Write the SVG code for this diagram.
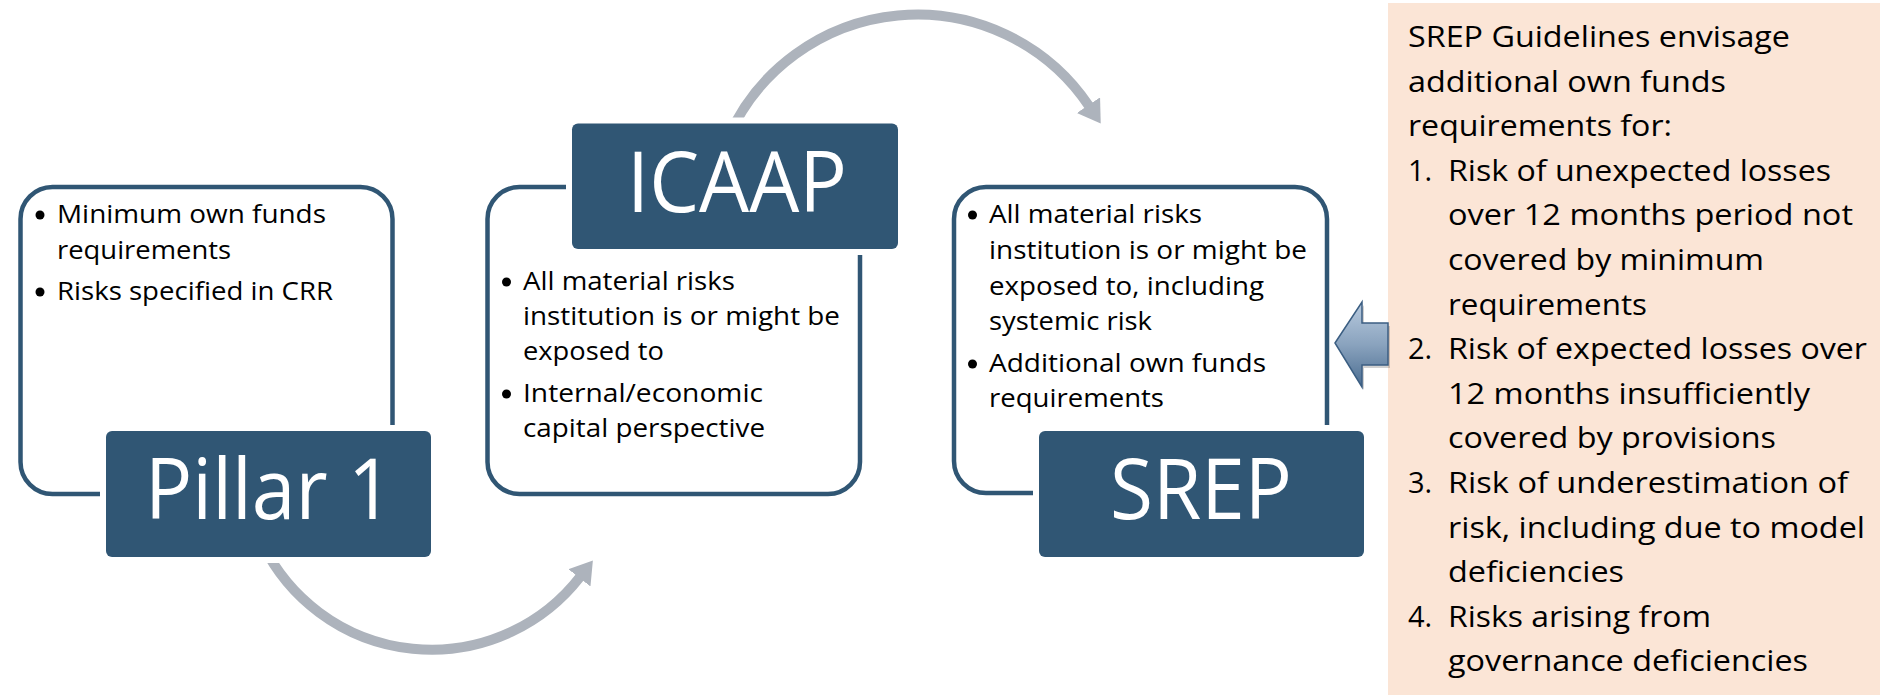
<svg xmlns="http://www.w3.org/2000/svg" width="1880" height="697" viewBox="0 0 1880 697">
  <style>
    .outline { fill: #ffffff; stroke: #305674; stroke-width: 4.5; }
    .gap { fill: #ffffff; }
    .dark { fill: #305674; }
    .label { font-family: "Open Sans", "Noto Sans", sans-serif; font-size: 84px; fill: #ffffff; text-anchor: middle; }
    .bul { font-family: "Open Sans", "Noto Sans", sans-serif; font-size: 26px; fill: #000000; }
    .pan { font-family: "Open Sans", "Noto Sans", sans-serif; font-size: 29px; fill: #000000; }
    .dot { fill: #000000; }
    .arc { fill: none; stroke: #adb3bc; stroke-width: 10; }
  </style>
  <defs>
    <marker id="head" markerUnits="userSpaceOnUse" markerWidth="26" markerHeight="30" refX="1" refY="14" orient="auto">
      <path d="M0,0 L22,14 L0,28 Z" fill="#adb3bc"/>
    </marker>
    <linearGradient id="blueGrad" x1="0" y1="0" x2="0" y2="1">
      <stop offset="0" stop-color="#b9cbdf"/>
      <stop offset="0.5" stop-color="#8aa3be"/>
      <stop offset="1" stop-color="#4a6c90"/>
    </linearGradient>
  </defs>

  <!-- right panel -->
  <g id="panel">
    <rect x="1388" y="3" width="492" height="692" fill="#fbe5d6"/>
    <text class="pan" x="1408" y="47" textLength="382" lengthAdjust="spacingAndGlyphs">SREP Guidelines envisage</text>
    <text class="pan" x="1408" y="91.6" textLength="318" lengthAdjust="spacingAndGlyphs">additional own funds</text>
    <text class="pan" x="1408" y="136.2" textLength="264" lengthAdjust="spacingAndGlyphs">requirements for:</text>
    <text class="pan" x="1408" y="180.8">1.</text>
    <text class="pan" x="1448" y="180.8" textLength="383" lengthAdjust="spacingAndGlyphs">Risk of unexpected losses</text>
    <text class="pan" x="1448" y="225.4" textLength="405" lengthAdjust="spacingAndGlyphs">over 12 months period not</text>
    <text class="pan" x="1448" y="270" textLength="316" lengthAdjust="spacingAndGlyphs">covered by minimum</text>
    <text class="pan" x="1448" y="314.6" textLength="199" lengthAdjust="spacingAndGlyphs">requirements</text>
    <text class="pan" x="1408" y="359.2">2.</text>
    <text class="pan" x="1448" y="359.2" textLength="419" lengthAdjust="spacingAndGlyphs">Risk of expected losses over</text>
    <text class="pan" x="1448" y="403.8" textLength="362" lengthAdjust="spacingAndGlyphs">12 months insufficiently</text>
    <text class="pan" x="1448" y="448.4" textLength="328" lengthAdjust="spacingAndGlyphs">covered by provisions</text>
    <text class="pan" x="1408" y="493">3.</text>
    <text class="pan" x="1448" y="493" textLength="400" lengthAdjust="spacingAndGlyphs">Risk of underestimation of</text>
    <text class="pan" x="1448" y="537.6" textLength="417" lengthAdjust="spacingAndGlyphs">risk, including due to model</text>
    <text class="pan" x="1448" y="582.2" textLength="176" lengthAdjust="spacingAndGlyphs">deficiencies</text>
    <text class="pan" x="1408" y="626.8">4.</text>
    <text class="pan" x="1448" y="626.8" textLength="263" lengthAdjust="spacingAndGlyphs">Risks arising from</text>
    <text class="pan" x="1448" y="671.4" textLength="360" lengthAdjust="spacingAndGlyphs">governance deficiencies</text>
  </g>

  <!-- connectors -->
  <g id="connectors">
    <path class="arc" d="M263,545 A188,188 0 0 0 580,577" marker-end="url(#head)"/>
    <path class="arc" d="M727,140 A207,207 0 0 1 1089,106" marker-end="url(#head)"/>
    <g id="blue-arrow">
      <polygon points="1337,346 1364,305 1364,326 1390,326 1390,368 1364,368 1364,390" fill="#000000" opacity="0.18"/>
      <polygon points="1335,343 1362,302 1362,323 1388,323 1388,365 1362,365 1362,387" fill="url(#blueGrad)" stroke="#3b5e82" stroke-width="1.5" stroke-linejoin="miter"/>
    </g>
  </g>

  <!-- Pillar 1 -->
  <g id="pillar1">
    <rect class="outline" x="20.5" y="187" width="372" height="307" rx="32"/>
    <circle class="dot" cx="40" cy="215" r="4.5"/>
    <text class="bul" x="57" y="223" textLength="269" lengthAdjust="spacingAndGlyphs">Minimum own funds</text>
    <text class="bul" x="57" y="259" textLength="174" lengthAdjust="spacingAndGlyphs">requirements</text>
    <circle class="dot" cx="40" cy="292" r="4.5"/>
    <text class="bul" x="57" y="300" textLength="276" lengthAdjust="spacingAndGlyphs">Risks specified in CRR</text>
    <rect class="gap" x="100" y="425" width="337" height="138" rx="8"/>
    <rect class="dark" x="106" y="431" width="325" height="126" rx="6"/>
    <text class="label" x="269" y="519" textLength="248" lengthAdjust="spacingAndGlyphs">Pillar 1</text>
  </g>

  <!-- ICAAP -->
  <g id="icaap">
    <rect class="outline" x="487.5" y="187" width="372.5" height="307" rx="32"/>
    <circle class="dot" cx="506.5" cy="282" r="4.5"/>
    <text class="bul" x="523" y="290" textLength="212" lengthAdjust="spacingAndGlyphs">All material risks</text>
    <text class="bul" x="523" y="325" textLength="317" lengthAdjust="spacingAndGlyphs">institution is or might be</text>
    <text class="bul" x="523" y="360" textLength="141" lengthAdjust="spacingAndGlyphs">exposed to</text>
    <circle class="dot" cx="506.5" cy="394" r="4.5"/>
    <text class="bul" x="523" y="402" textLength="240" lengthAdjust="spacingAndGlyphs">Internal/economic</text>
    <text class="bul" x="523" y="437" textLength="242" lengthAdjust="spacingAndGlyphs">capital perspective</text>
    <rect class="gap" x="566" y="117.5" width="338" height="137.5" rx="8"/>
    <rect class="dark" x="572" y="123.5" width="326" height="125.5" rx="6"/>
    <text class="label" x="737" y="212" textLength="220" lengthAdjust="spacingAndGlyphs">ICAAP</text>
  </g>

  <!-- SREP -->
  <g id="srep">
    <rect class="outline" x="954" y="187" width="373" height="306" rx="32"/>
    <circle class="dot" cx="972.5" cy="215" r="4.5"/>
    <text class="bul" x="989" y="223" textLength="213" lengthAdjust="spacingAndGlyphs">All material risks</text>
    <text class="bul" x="989" y="259" textLength="318" lengthAdjust="spacingAndGlyphs">institution is or might be</text>
    <text class="bul" x="989" y="295" textLength="275" lengthAdjust="spacingAndGlyphs">exposed to, including</text>
    <text class="bul" x="989" y="330" textLength="163" lengthAdjust="spacingAndGlyphs">systemic risk</text>
    <circle class="dot" cx="972.5" cy="364" r="4.5"/>
    <text class="bul" x="989" y="372" textLength="277" lengthAdjust="spacingAndGlyphs">Additional own funds</text>
    <text class="bul" x="989" y="407" textLength="175" lengthAdjust="spacingAndGlyphs">requirements</text>
    <rect class="gap" x="1033" y="425" width="337" height="138" rx="8"/>
    <rect class="dark" x="1039" y="431" width="325" height="126" rx="6"/>
    <text class="label" x="1201" y="519" textLength="182" lengthAdjust="spacingAndGlyphs">SREP</text>
  </g>
</svg>
